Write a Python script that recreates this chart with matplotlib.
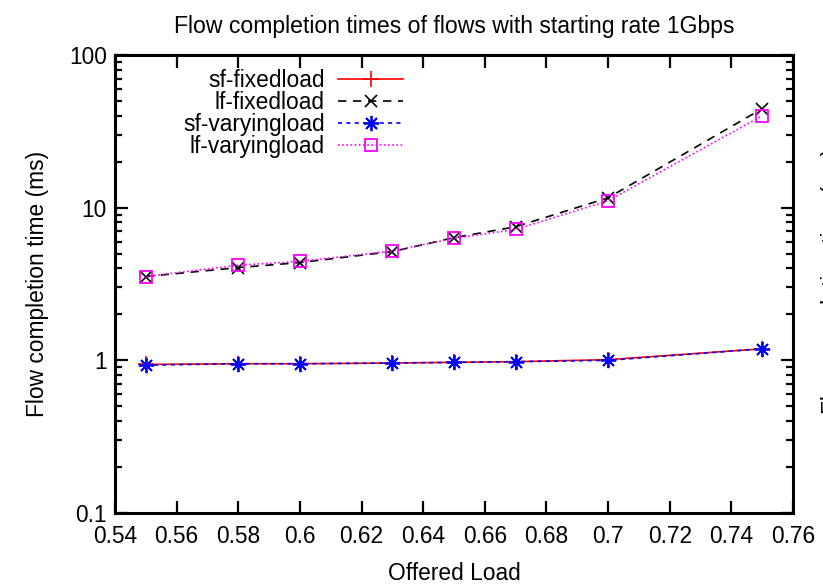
import matplotlib
matplotlib.use('Agg')
import matplotlib.pyplot as plt
from matplotlib.ticker import FixedLocator, LogLocator, NullFormatter

plt.rcParams['font.family'] = ['Liberation Sans', 'DejaVu Sans']

# Data
loads = [0.55, 0.58, 0.6, 0.63, 0.65, 0.67, 0.7, 0.75]
sf_fixed = [0.94, 0.95, 0.95, 0.96, 0.97, 0.98, 1.01, 1.19]
lf_fixed = [3.54, 4.05, 4.37, 5.16, 6.36, 7.5, 11.6, 44.5]
sf_varying = [0.93, 0.95, 0.95, 0.96, 0.97, 0.98, 1.0, 1.19]
lf_varying = [3.54, 4.2, 4.45, 5.2, 6.3, 7.2, 11.1, 40.0]

x_ticks = [0.54, 0.56, 0.58, 0.6, 0.62, 0.64, 0.66, 0.68, 0.7, 0.72, 0.74, 0.76]
x_ticklabels = ['0.54', '0.56', '0.58', '0.6', '0.62', '0.64', '0.66', '0.68', '0.7', '0.72', '0.74', '0.76']
y_ticks = [0.1, 1, 10, 100]
y_ticklabels = ['0.1', '1', '10', '100']

FS = 16.4

fig = plt.figure(figsize=(8.23, 5.86), dpi=100)
ax = fig.add_axes([0.1397, 0.1246, 0.8238, 0.7815])

ax.plot(loads, sf_fixed, color='red', linestyle='-', linewidth=1.2,
        marker='+', markersize=11, markeredgewidth=1.2, label='sf-fixedload')
ax.plot(loads, lf_fixed, color='black', linestyle=(0, (5, 4)), linewidth=1.2,
        marker='x', markersize=8, markeredgewidth=1.2, label='lf-fixedload')
ax.plot(loads, sf_varying, color='blue', linestyle=(0, (2.5, 2.5)), linewidth=1.2,
        marker=(8, 2, 0), markersize=11, markeredgewidth=1.3, label='sf-varyingload')
ax.plot(loads, lf_varying, color='magenta', linestyle=(0, (1, 1.5)), linewidth=1.2,
        marker='s', markersize=9, markerfacecolor='none', markeredgewidth=1.3,
        label='lf-varyingload')

ax.set_yscale('log')
ax.set_xlim(0.54, 0.76)
ax.set_ylim(0.1, 100)
ax.xaxis.set_major_locator(FixedLocator(x_ticks))
ax.set_xticklabels(x_ticklabels)
ax.yaxis.set_major_locator(FixedLocator(y_ticks))
ax.set_yticklabels(y_ticklabels)
ax.yaxis.set_minor_locator(LogLocator(base=10, subs=range(2, 10)))
ax.yaxis.set_minor_formatter(NullFormatter())

ax.tick_params(which='both', direction='in', top=True, right=True,
               labelsize=FS, width=1.6)
ax.tick_params(which='major', length=9, pad=6)
ax.tick_params(axis='x', which='major', pad=9)
ax.tick_params(which='minor', length=5)
for s in ax.spines.values():
    s.set_linewidth(2.2)

ax.set_title('Flow completion times of flows with starting rate 1Gbps', fontsize=FS + 0.2, pad=16)
ax.set_xlabel('Offered Load', fontsize=FS, labelpad=10)
ax.set_ylabel('Flow completion time (ms)', fontsize=FS, labelpad=14)

ax.legend(loc='upper right', bbox_to_anchor=(0.425, 0.97), markerfirst=False,
          frameon=False, fontsize=FS, handlelength=2.85, labelspacing=-0.04,
          handletextpad=0.6, borderaxespad=0, borderpad=0)

# clipped axis label of a neighbouring chart at the right edge
fig.text(0.997, 0.52, 'Flow completion time (ms)', rotation=90, fontsize=FS,
         ha='left', va='center')

fig.savefig('out.png', dpi=100)
